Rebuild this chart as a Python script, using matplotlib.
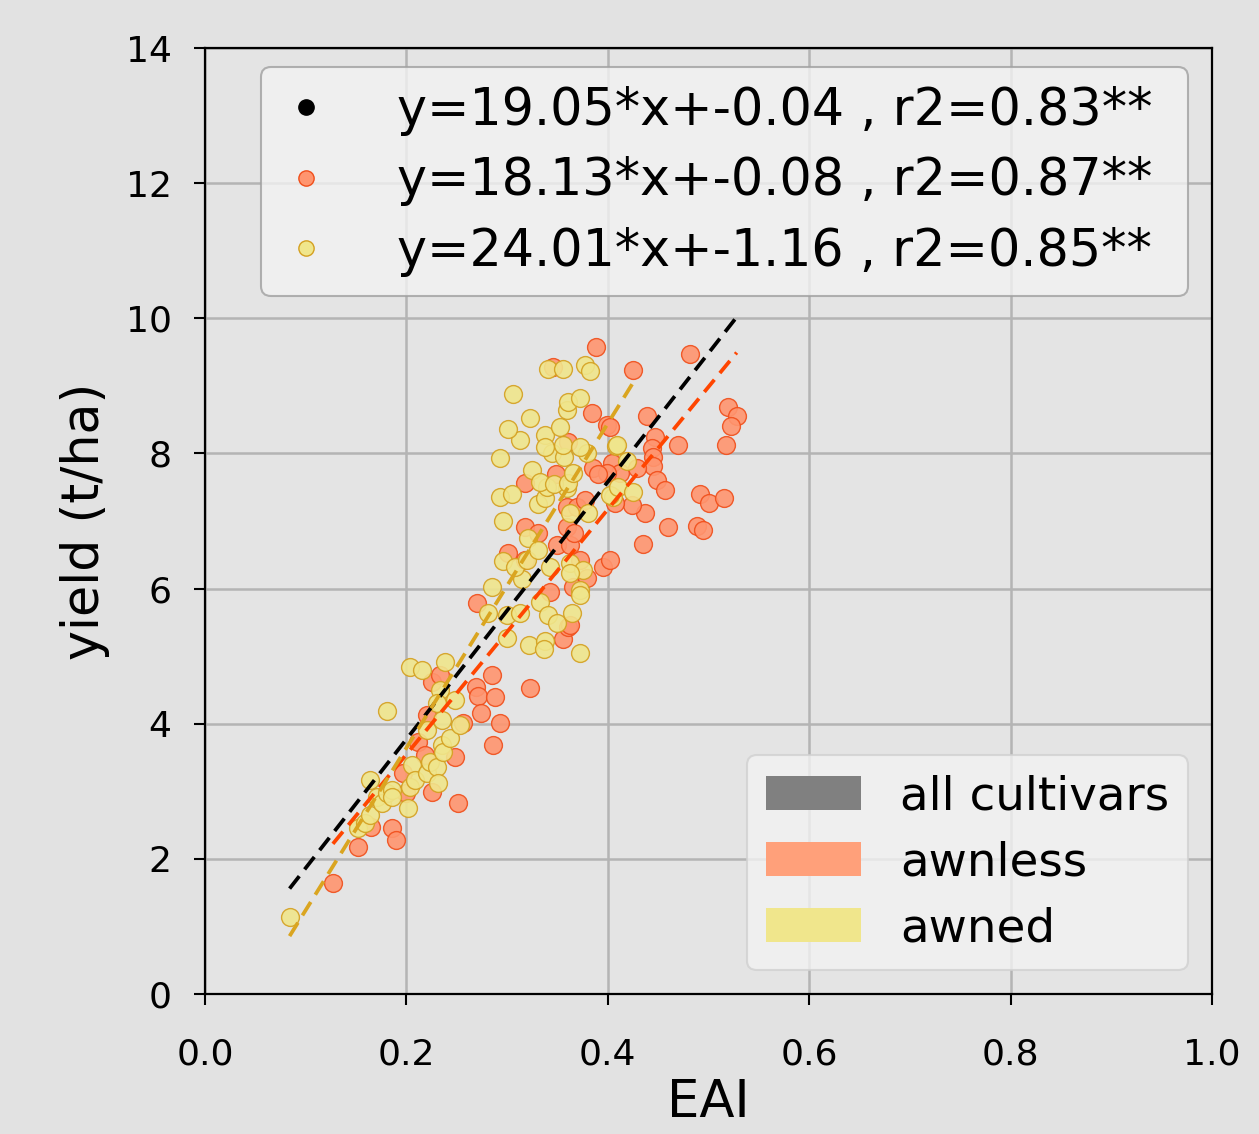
import numpy as np
import matplotlib
matplotlib.use("Agg")
import matplotlib.pyplot as plt
from matplotlib.patches import Patch
from matplotlib.lines import Line2D

# ---- data ----
awnless_eai = [0.127, 0.152, 0.165, 0.186, 0.190, 0.197, 0.200, 0.212, 0.218, 0.225,
               0.248, 0.251, 0.220, 0.225, 0.233, 0.256, 0.269, 0.271, 0.274, 0.285,
               0.288, 0.293, 0.286, 0.323, 0.270, 0.356, 0.360, 0.362, 0.343, 0.365,
               0.379, 0.395, 0.402, 0.372, 0.301, 0.318, 0.350, 0.362, 0.318, 0.331,
               0.359, 0.366, 0.359, 0.369, 0.377, 0.318, 0.349, 0.360, 0.385, 0.384,
               0.399, 0.402, 0.388, 0.346, 0.425, 0.482, 0.439, 0.519, 0.528, 0.522,
               0.447, 0.470, 0.517, 0.444, 0.445, 0.445, 0.449, 0.457, 0.492, 0.500,
               0.515, 0.437, 0.460, 0.489, 0.495, 0.435, 0.404, 0.412, 0.429, 0.424,
               0.407, 0.399, 0.390]
awnless_yield = [1.64, 2.18, 2.47, 2.46, 2.28, 3.27, 2.97, 3.73, 3.54, 2.99,
                 3.51, 2.83, 4.13, 4.62, 4.72, 4.01, 4.54, 4.41, 4.16, 4.72,
                 4.40, 4.01, 3.69, 4.53, 5.79, 5.25, 5.43, 5.46, 5.95, 6.02,
                 6.16, 6.32, 6.42, 6.42, 6.53, 6.42, 6.65, 6.65, 6.91, 6.82,
                 6.91, 6.82, 7.21, 7.21, 7.31, 7.56, 7.70, 8.17, 7.78, 8.60,
                 8.42, 8.39, 9.58, 9.28, 9.23, 9.47, 8.55, 8.69, 8.55, 8.41,
                 8.24, 8.12, 8.12, 8.08, 7.95, 7.81, 7.61, 7.46, 7.40, 7.27,
                 7.34, 7.12, 6.91, 6.93, 6.87, 6.66, 7.86, 7.71, 7.78, 7.24,
                 7.27, 7.71, 7.70]

awned_eai = [0.084, 0.152, 0.159, 0.164, 0.164, 0.171, 0.176, 0.181, 0.186, 0.186,
             0.202, 0.204, 0.206, 0.209, 0.220, 0.223, 0.230, 0.231, 0.235, 0.236,
             0.243, 0.220, 0.253, 0.181, 0.204, 0.215, 0.238, 0.233, 0.248, 0.230,
             0.235, 0.281, 0.300, 0.300, 0.285, 0.313, 0.333, 0.341, 0.350, 0.364,
             0.322, 0.338, 0.337, 0.372, 0.315, 0.296, 0.308, 0.320, 0.343, 0.362,
             0.375, 0.362, 0.372, 0.372, 0.321, 0.331, 0.296, 0.293, 0.305, 0.331,
             0.338, 0.340, 0.359, 0.362, 0.380, 0.405, 0.402, 0.410, 0.425, 0.419,
             0.408, 0.293, 0.325, 0.333, 0.347, 0.360, 0.365, 0.345, 0.357, 0.379,
             0.313, 0.338, 0.338, 0.356, 0.372, 0.409, 0.301, 0.323, 0.353, 0.359,
             0.360, 0.372, 0.306, 0.341, 0.356, 0.377, 0.382]
awned_yield = [1.14, 2.46, 2.53, 2.65, 3.17, 2.92, 2.83, 2.97, 3.02, 2.92,
               2.75, 3.06, 3.39, 3.17, 3.27, 3.43, 3.36, 3.12, 3.69, 3.58,
               3.79, 3.91, 3.98, 4.19, 4.84, 4.80, 4.91, 4.50, 4.35, 4.31,
               4.06, 5.64, 5.27, 5.61, 6.02, 5.64, 5.80, 5.61, 5.49, 5.64,
               5.17, 5.22, 5.11, 5.05, 6.14, 6.41, 6.32, 6.42, 6.32, 6.38,
               6.27, 6.23, 5.98, 5.90, 6.75, 6.57, 7.00, 7.36, 7.40, 7.25,
               7.34, 7.50, 7.49, 7.12, 7.12, 7.36, 7.39, 7.50, 7.43, 7.89,
               8.11, 7.93, 7.75, 7.58, 7.55, 7.56, 7.71, 8.01, 7.95, 8.01,
               8.20, 8.27, 8.10, 8.12, 8.10, 8.12, 8.36, 8.52, 8.39, 8.64,
               8.76, 8.82, 8.88, 9.25, 9.25, 9.31, 9.22]

# regression coefficients (slope, intercept, r2) as printed in the chart
fit_all = [19.05, -0.04, 0.83]
fit_awnless = [18.13, -0.08, 0.87]
fit_awned = [24.01, -1.16, 0.85]

group_labels = ["all cultivars", "awnless", "awned"]
x_ticks = [0.0, 0.2, 0.4, 0.6, 0.8, 1.0]
y_ticks = [0, 2, 4, 6, 8, 10, 12, 14]

# ---- figure ----
bg = "#e2e2e2"
fig = plt.figure(figsize=(12.59, 11.34), dpi=100, facecolor=bg)
ax = fig.add_axes([205 / 1259, 1 - 994 / 1134, 1007 / 1259, 946 / 1134])
ax.set_facecolor("#e4e4e4")

ax.grid(True, color="#b4b4b4", linewidth=1.8, zorder=0)
ax.set_axisbelow(True)

orange_face, orange_edge = "#ff956f", "#f04e1a"
yellow_face, yellow_edge = "#f0e68c", "#d4a020"

ax.scatter(awnless_eai, awnless_yield, s=165, c=orange_face, edgecolors=orange_edge,
           linewidths=1.0, alpha=0.9, zorder=3)
ax.scatter(awned_eai, awned_yield, s=165, c=yellow_face, edgecolors=yellow_edge,
           linewidths=1.0, alpha=0.9, zorder=3)

all_eai = np.array(awnless_eai + awned_eai)


def draw_fit(coef, xs, color):
    xx = np.array([np.min(xs), np.max(xs)])
    ax.plot(xx, coef[0] * xx + coef[1], color=color, linewidth=2.7,
            linestyle=(0, (4.2, 2.3)), zorder=4)


draw_fit(fit_all, all_eai, "black")
draw_fit(fit_awnless, np.array(awnless_eai), "#ff4500")
draw_fit(fit_awned, np.array(awned_eai), "#daa520")

ax.set_xlim(0, 1)
ax.set_ylim(0, 14)
ax.set_xticks(x_ticks)
ax.set_yticks(y_ticks)
ax.set_xticklabels([f"{v:.1f}" for v in x_ticks])
ax.tick_params(axis="both", labelsize=26, length=8, width=1.5, colors="black")
ax.tick_params(axis="x", pad=23)
ax.tick_params(axis="y", pad=16)
for sp in ax.spines.values():
    sp.set_linewidth(1.6)
    sp.set_color("black")

ax.set_xlabel("EAI", fontsize=37, labelpad=5)
ax.set_ylabel("yield (t/ha)", fontsize=36.5, labelpad=11)


def eq(c):
    return f"y={c[0]:.2f}*x+{c[1]:.2f} , r2={c[2]:.2f}** "


h1 = [Line2D([], [], marker="o", linestyle="none", markersize=11,
             markerfacecolor="black", markeredgecolor="black"),
      Line2D([], [], marker="o", linestyle="none", markersize=11,
             markerfacecolor=orange_face, markeredgecolor=orange_edge),
      Line2D([], [], marker="o", linestyle="none", markersize=11,
             markerfacecolor=yellow_face, markeredgecolor=yellow_edge)]
leg1 = ax.legend(h1, [eq(fit_all), eq(fit_awnless), eq(fit_awned)],
                 loc="upper right", fontsize=36.5, labelspacing=0.4,
                 handlelength=1.0, handletextpad=1.3, borderpad=0.38,
                 borderaxespad=0, framealpha=0.8,
                 facecolor="#f2f2f2", edgecolor="#a0a0a0",
                 bbox_to_anchor=(0.976, 0.980))
leg1.get_frame().set_linewidth(1.5)
ax.add_artist(leg1)

h2 = [Patch(facecolor="gray"), Patch(facecolor="#ffa07a"), Patch(facecolor="#f0e68c")]
leg2 = ax.legend(h2, group_labels, loc="lower right", fontsize=33.7,
                 labelspacing=0.45, handlelength=2.03, handleheight=0.75,
                 handletextpad=0.83, borderpad=0.4, borderaxespad=0,
                 framealpha=0.8, facecolor="#f2f2f2", edgecolor="#d0d0d0",
                 bbox_to_anchor=(0.976, 0.0254))
leg2.get_frame().set_linewidth(1.5)

fig.savefig("out.png", dpi=100, facecolor=bg)
